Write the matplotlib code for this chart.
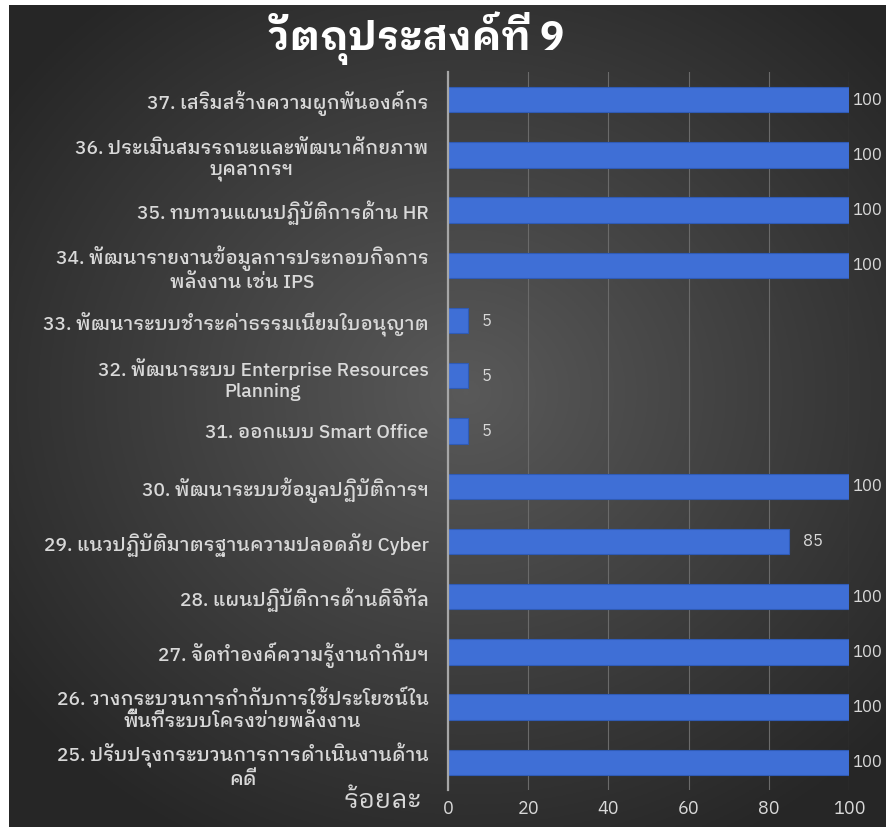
import numpy as np
import matplotlib
matplotlib.use("Agg")
import matplotlib.pyplot as plt

plt.rcParams['font.family'] = ['IBM Plex Sans Thai Looped', 'Noto Sans Thai Looped', 'DejaVu Sans']

# data (top to bottom as in the chart)
labels = [
    "37. เสริมสร้างความผูกพันองค์กร",
    "36. ประเมินสมรรถนะและพัฒนาศักยภาพ\nบุคลากรฯ",
    "35. ทบทวนแผนปฏิบัติการด้าน HR",
    "34. พัฒนารายงานข้อมูลการประกอบกิจการ\nพลังงาน เช่น IPS",
    "33. พัฒนาระบบชำระค่าธรรมเนียมใบอนุญาต",
    "32. พัฒนาระบบ Enterprise Resources\nPlanning",
    "31. ออกแบบ Smart Office",
    "30. พัฒนาระบบข้อมูลปฏิบัติการฯ",
    "29. แนวปฏิบัติมาตรฐานความปลอดภัย Cyber",
    "28. แผนปฏิบัติการด้านดิจิทัล",
    "27. จัดทำองค์ความรู้งานกำกับฯ",
    "26. วางกระบวนการกำกับการใช้ประโยชน์ใน\nพื้นที่ระบบโครงข่ายพลังงาน",
    "25. ปรับปรุงกระบวนการการดำเนินงานด้าน\nคดี",
]
values = [100, 100, 100, 100, 5, 5, 5, 100, 85, 100, 100, 100, 100]
xticks = [0, 20, 40, 60, 80, 100]

title = "วัตถุประสงค์ที่ 9"
xlabel = "ร้อยละ"

txt_col = '#d9d9d9'

fig = plt.figure(figsize=(8.86, 8.27), dpi=100, facecolor='white')

# dark radial background
bg = fig.add_axes([9/886, 0, 1 - 9/886, 1 - 5/827], zorder=-5)
h, w = 400, 430
yy, xx = np.mgrid[0:h, 0:w]
r = np.sqrt(((xx / w - 0.52) / 0.65) ** 2 + ((yy / h - 0.47) / 0.62) ** 2)
shade = 0.15 + 0.2 * np.clip(1 - r, 0, 1) ** 1.0
bg.imshow(np.dstack([shade] * 3), aspect='auto', extent=[0, 1, 0, 1])
bg.axis('off')

ax = fig.add_axes([448/886, 1 - 790/827, (849 - 448)/886, (790 - 72)/827])
ax.patch.set_alpha(0)

y = np.arange(len(labels))
ax.barh(y, values, height=0.46, color='#3f6fd6', edgecolor='#2f5bb5', linewidth=0.8, zorder=3)

for yi, v in zip(y, values):
    pad = 2 if v >= 100 else 10
    ax.annotate(str(v), (v, yi), xytext=(pad, 0), textcoords='offset points',
                va='center', ha='left', color=txt_col, fontsize=12)

ax.set_ylim(len(labels) - 0.5, -0.5)
ax.set_xlim(0, 100)
ax.set_yticks(y)
ax.set_yticklabels(labels, fontsize=13.8, color=txt_col, fontweight='medium',
                   multialignment='center', linespacing=1.2)
ax.set_xticks(xticks)
ax.tick_params(axis='y', length=0, pad=14)
ax.tick_params(axis='x', length=0, pad=7, labelsize=13, labelcolor=txt_col)

ax.grid(axis='x', color='#6a6a6a', linewidth=0.8, zorder=0)
for s in ['top', 'right', 'bottom']:
    ax.spines[s].set_visible(False)
ax.spines['left'].set_color('#a6a6a6')
ax.spines['left'].set_linewidth(1.6)
ax.spines['left'].set_zorder(4)

fig.text(0.47, 1 - 38/827, title, ha='center', va='center', fontsize=29,
         fontweight='bold', color='white')
fig.text(422/886, 1 - 801/827, xlabel, ha='right', va='center', fontsize=19, color=txt_col)

fig.savefig("out.png", dpi=100, facecolor=fig.get_facecolor())
